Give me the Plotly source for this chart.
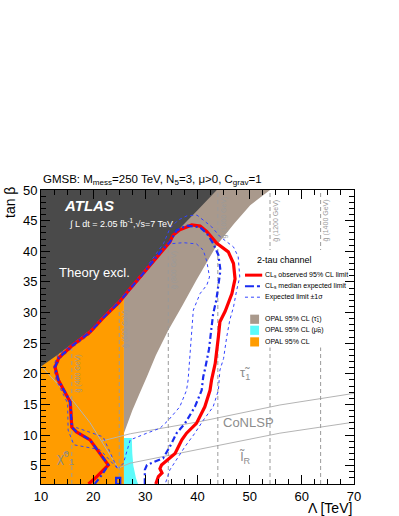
import plotly.graph_objects as go

# Eixos
lam_range = [10, 70]
tanb_range = [2, 50]

# Fronteira da regiao excluida pela teoria
theory_lam = [10, 13, 16, 19.4, 22, 25, 27.1, 30, 34.7, 37, 40, 43.7]
theory_tanb = [21.2, 23.0, 24.9, 27.1, 29.5, 32.0, 34.2, 37.1, 41.8, 44.1, 46.7, 50]

# OPAL (stau) - borda direita da faixa marrom
opal_stau_lam = [25.9, 27.5, 29, 30.3, 32, 34.4, 37, 39.8, 43.7, 47, 50.1, 53.9]
opal_stau_tanb = [10.3, 14, 17, 19.5, 23, 27.1, 31, 35.3, 41, 44.5, 47.5, 50]

# OPAL (smuon) - regiao ciano
opal_smu_lam = [25.9, 28.6, 28.2, 27.7, 27.5, 27.4, 25.9]
opal_smu_tanb = [2, 2, 3, 5, 7, 9.5, 9.5]

# OPAL geral - laranja
opal_lam = [10, 25.9, 25.9, 10]
opal_tanb = [2, 2, 50, 50]

# Limite observado
obs_lam = [19.1, 20.7, 22.9, 19.4, 16.8, 15.9, 15.6, 13.3, 12.7, 13.4,
           16, 19.4, 22, 25, 27.1, 30, 33, 34.7, 35.3, 36.6,
           38.9, 40.5, 41.8, 43.7, 45.9, 46.9, 47.2, 46.6, 45.3, 44.3,
           44.0, 43.4, 42.7, 42.4, 41.4, 39.8, 37.9, 37.0, 35.7, 34.1,
           33.1, 32.8, 33.2, 32.5, 32.0]
obs_tanb = [2, 3.2, 5.1, 9.2, 10.5, 11.3, 15.4, 19.0, 21.1, 22.6,
            24.6, 26.8, 29.2, 31.7, 33.9, 36.8, 40.0, 41.5, 42.6, 43.5,
            44.3, 44.1, 43.2, 41.3, 39.9, 38.0, 35.5, 33.1, 30.2, 28.5,
            26.0, 21.7, 19.0, 17.3, 14.6, 11.9, 10.3, 9.2, 7.0, 5.9,
            5.1, 4.5, 3.8, 3.2, 2.0]

# Limite esperado (mediana)
exp_lam = [20.3, 21.6, 22.9, 19.4, 16.8, 15.9, 15.6, 13.3, 12.7, 13.4,
           16, 19.4, 22, 25, 27.1, 30, 33, 34.7, 36.0, 37.9,
           40.5, 41.8, 43.0, 44.0, 44.4, 44.0, 43.6, 43.0, 42.7, 42.2,
           41.5, 41.1, 40.8, 39.5, 37.6, 36.0, 34.7, 33.4, 30.3, 29.9,
           29.9]
exp_tanb = [2, 3.4, 5.1, 9.2, 10.5, 11.3, 15.4, 19.0, 21.1, 22.6,
            24.6, 26.8, 29.2, 31.7, 33.9, 36.8, 40.0, 41.5, 43.4, 44.2,
            43.9, 42.9, 41.3, 39.4, 36.9, 34.2, 32.0, 29.8, 27.5, 24.0,
            21.0, 19.5, 17.3, 14.6, 11.9, 10.3, 8.1, 6.2, 5.1, 4.3,
            2.0]
exp_loop_lam = [24.4, 25.2, 25.2, 24.4, 24.4]
exp_loop_tanb = [2.0, 2.0, 3.0, 3.0, 2.0]

# +1 sigma
up_lam = [24.6, 21.3, 16.3, 15.2, 15.1, 12.9, 12.4, 13.2, 16,
          19.4, 22, 25, 27.1, 30, 33.5, 34.7, 36.3, 38.0, 39.9,
          42.7, 44.3, 46.9, 47.8, 48.1, 47.5, 46.9, 46.2, 45.6, 45.0,
          44.3, 44.0, 43.0, 41.1, 39.5, 37.6, 36.0, 34.7, 33.8]
up_tanb = [4.6, 7.6, 8.4, 10.8, 15.2, 19.0, 21.2, 23.0, 24.9,
           27.1, 29.5, 32.0, 34.2, 37.1, 41.3, 43.7, 45.1, 45.8, 45.9,
           44.0, 42.4, 40.7, 39.1, 35.8, 33.6, 30.9, 28.8, 26.0, 22.5,
           20.6, 17.3, 14.6, 12.4, 10.3, 8.1, 5.9, 4.3, 2.0]

# -1 sigma
dn_lam = [24.6, 21.9, 16.8, 16.1, 15.8, 13.5, 12.9, 13.6, 16, 19.4,
          22, 25, 27.1, 30, 34.5, 37.3, 39.8, 41.1, 41.8, 42.3,
          41.8, 40.5, 39.2, 38.9, 38.6, 38.2, 37.9, 36.6, 34.4, 32.8,
          30.3, 27.1, 25.8, 24.9]
dn_tanb = [4.6, 9.7, 11.2, 11.6, 15.4, 19.0, 21.1, 22.4, 24.3, 26.5,
           29.0, 31.5, 33.6, 36.5, 41.2, 41.4, 41.2, 40.2, 38.3, 35.8,
           34.5, 33.1, 30.4, 27.1, 22.8, 19.0, 17.3, 14.6, 12.4, 11.1,
           10.3, 9.2, 5.4, 4.6]

# Linhas cinzas (regioes de NLSP)
nlsp_lam = [10, 16.2, 19.4, 21.6, 24.8]
nlsp_tanb = [21.3, 15.5, 12.0, 9.0, 4.6]
conlsp_lo_lam = [24.8, 27.1, 40.5, 55.8, 70]
conlsp_lo_tanb = [4.6, 5.4, 7.7, 10.3, 12.1]
conlsp_hi_lam = [21.6, 27.1, 40.5, 55.8, 70]
conlsp_hi_tanb = [9.0, 10.2, 12.2, 14.9, 16.8]

# Massas do gluino
gluino_lam = [15.9, 25.0, 34.4, 43.9, 53.9, 63.6]
gluino_top = [24.8, 32.0, 41.5, 50, 50, 50]
gluino_label_tanb = [20.1, 27.3, 36.9, 45.4, 44.9, 44.9]
gluino_mass = ['400', '600', '800', '1000', '1200', '1400']

FONT = 'Liberation Sans, Arial, sans-serif'
GRAY_TXT = '#8c8c8c'

fig = go.Figure()

fig.add_trace(go.Scatter(x=opal_lam, y=opal_tanb, fill='toself', fillcolor='#ff9c00',
                         mode='none', hoverinfo='skip'))
fig.add_trace(go.Scatter(x=opal_stau_lam + [25.9], y=opal_stau_tanb + [50], fill='toself',
                         fillcolor='#a9998c', mode='none', hoverinfo='skip'))
fig.add_trace(go.Scatter(x=opal_smu_lam, y=opal_smu_tanb, fill='toself', fillcolor='#5cfafa',
                         mode='none', hoverinfo='skip'))
fig.add_trace(go.Scatter(x=theory_lam + [10], y=theory_tanb + [50], fill='toself',
                         fillcolor='#4a4a4a', mode='none', hoverinfo='skip'))

# Linhas cinzas finas
for xs, ys in [(nlsp_lam, nlsp_tanb), (conlsp_lo_lam, conlsp_lo_tanb), (conlsp_hi_lam, conlsp_hi_tanb)]:
    fig.add_trace(go.Scatter(x=xs, y=ys, mode='lines', line=dict(color='#b4b4b4', width=1),
                             hoverinfo='skip'))

# Linhas verticais do gluino
for g, top in zip(gluino_lam, gluino_top):
    fig.add_trace(go.Scatter(x=[g, g], y=[tanb_range[0], top], mode='lines',
                             line=dict(color='#9a9a9a', width=1, dash='4px,3px'), hoverinfo='skip'))

# Contornos
for xs, ys in [(up_lam, up_tanb), (dn_lam, dn_tanb)]:
    fig.add_trace(go.Scatter(x=xs, y=ys, mode='lines', line=dict(color='#3344ff', width=1, dash='dot'),
                             hoverinfo='skip'))
fig.add_trace(go.Scatter(x=obs_lam, y=obs_tanb, mode='lines', line=dict(color='#ff0000', width=3.2),
                         hoverinfo='skip'))
fig.add_trace(go.Scatter(x=exp_lam, y=exp_tanb, mode='lines',
                         line=dict(color='#1a2cf0', width=2.2, dash='6px,3px,2px,3px'), hoverinfo='skip'))
fig.add_trace(go.Scatter(x=exp_loop_lam, y=exp_loop_tanb, mode='lines',
                         line=dict(color='#1a2cf0', width=2.2), hoverinfo='skip'))

# Legenda manual
shapes = [dict(type='rect', xref='x', yref='y', x0=49.9, x1=68.2, y0=24.3, y1=40.2,
               fillcolor='white', line=dict(width=0), layer='above')]
leg_line_y = [36.1, 34.3, 32.5]
leg_line_style = [dict(color='#ff0000', width=3), dict(color='#1a2cf0', width=2, dash='dashdot'),
                  dict(color='#3344ff', width=1, dash='dot')]
for y, st in zip(leg_line_y, leg_line_style):
    shapes.append(dict(type='line', xref='x', yref='y', x0=49.1, x1=52.4, y0=y, y1=y,
                       line=st, layer='above'))
leg_box_y = [28.9, 27.1, 25.2]
leg_box_col = ['#a9998c', '#5cfafa', '#ff9c00']
for y, c in zip(leg_box_y, leg_box_col):
    shapes.append(dict(type='rect', xref='x', yref='y', x0=50.1, x1=51.8, y0=y - 0.75, y1=y + 0.75,
                       fillcolor=c, line=dict(width=0), layer='above'))

leg_text = ['CL<sub>s</sub> observed 95% CL limit', 'CL<sub>s</sub> median expected limit',
            'Expected limit \u00b11\u03c3', 'OPAL 95% CL (\u03c4\u0303<sub>1</sub>)',
            'OPAL 95% CL (\u03bc\u0303<sub>R</sub>)', 'OPAL 95% CL']
leg_text_y = leg_line_y + leg_box_y

annotations = []
for t, y in zip(leg_text, leg_text_y):
    annotations.append(dict(x=52.6, y=y, xref='x', yref='y', text=t, showarrow=False,
                            xanchor='left', yanchor='middle', font=dict(size=7, color='black', family=FONT)))
annotations.append(dict(x=51, y=38.5, xref='x', yref='y', text='2-tau channel', showarrow=False,
                        xanchor='left', yanchor='middle', font=dict(size=9, color='black', family=FONT)))

# Rotulos das linhas do gluino
for g, yl, m in zip(gluino_lam, gluino_label_tanb, gluino_mass):
    annotations.append(dict(x=g, y=yl, xref='x', yref='y', text='g\u0303 (%s GeV)' % m, showarrow=False,
                            textangle=-90, xanchor='center', yanchor='middle', xshift=6,
                            font=dict(size=7, color='#9a9a9a', family=FONT)))

# Textos internos
annotations += [
    dict(x=14.0, y=47.5, text='<b><i>ATLAS</i></b>', font=dict(size=15, color='white', family=FONT)),
    dict(x=14.9, y=44.6, text='\u222b L dt = 2.05 fb<sup>-1</sup>,\u221as=7 TeV',
         font=dict(size=9, color='white', family=FONT)),
    dict(x=13.0, y=36.6, text='Theory excl.', font=dict(size=13, color='white', family=FONT)),
    dict(x=12.6, y=6.2, text='\u03c7\u0303<sup>0</sup><sub>1</sub>', font=dict(size=13, color=GRAY_TXT, family=FONT)),
    dict(x=47.8, y=20.1, text='\u03c4\u0303<sub>1</sub>', font=dict(size=13, color=GRAY_TXT, family=FONT)),
    dict(x=44.5, y=12.0, text='CoNLSP', font=dict(size=13, color=GRAY_TXT, family=FONT)),
    dict(x=47.6, y=6.4, text='l\u0303<sub>R</sub>', font=dict(size=13, color=GRAY_TXT, family=FONT)),
]
for a in annotations[-7:]:
    a.update(xref='x', yref='y', showarrow=False, xanchor='left', yanchor='middle')

# Titulos
annotations += [
    dict(x=0, y=1 + 10 / 294, xref='paper', yref='paper', showarrow=False, xanchor='left', yanchor='middle',
         text='GMSB: M<sub>mess</sub>=250 TeV, N<sub>5</sub>=3, \u03bc>0, C<sub>grav</sub>=1',
         font=dict(size=11.5, color='black', family=FONT)),
    dict(x=0, y=1 - 13 / 294, xref='paper', yref='paper', showarrow=False, xanchor='center', yanchor='middle',
         xshift=-31, textangle=-90, text='tan \u03b2', font=dict(size=14, color='black', family=FONT)),
    dict(x=1, y=0, xref='paper', yref='paper', showarrow=False, xanchor='right', yanchor='top',
         yshift=-14, text='\u039b [TeV]', font=dict(size=14, color='black', family=FONT)),
]

axis_common = dict(showline=True, linecolor='black', linewidth=1, mirror='ticks', ticks='inside',
                   ticklen=9, tickwidth=1, tickcolor='black', showgrid=False, zeroline=False,
                   tickfont=dict(size=13, color='black', family=FONT))

fig.update_layout(
    width=399, height=516,
    margin=dict(l=41, r=45, t=190, b=32),
    paper_bgcolor='white', plot_bgcolor='white',
    showlegend=False,
    shapes=shapes,
    annotations=annotations,
    xaxis=dict(range=lam_range, dtick=10, tick0=0,
               minor=dict(ticks='inside', ticklen=5, dtick=2.5, tickcolor='black', showgrid=False),
               **axis_common),
    yaxis=dict(range=tanb_range, dtick=5, tick0=0,
               minor=dict(ticks='inside', ticklen=5, dtick=1, tickcolor='black', showgrid=False),
               **axis_common),
)

# tira a margem padrao do body para a figura ocupar a janela inteira
fig.write_html("out.html", config={'displayModeBar': False},
               post_script="document.body.style.margin='0';")
